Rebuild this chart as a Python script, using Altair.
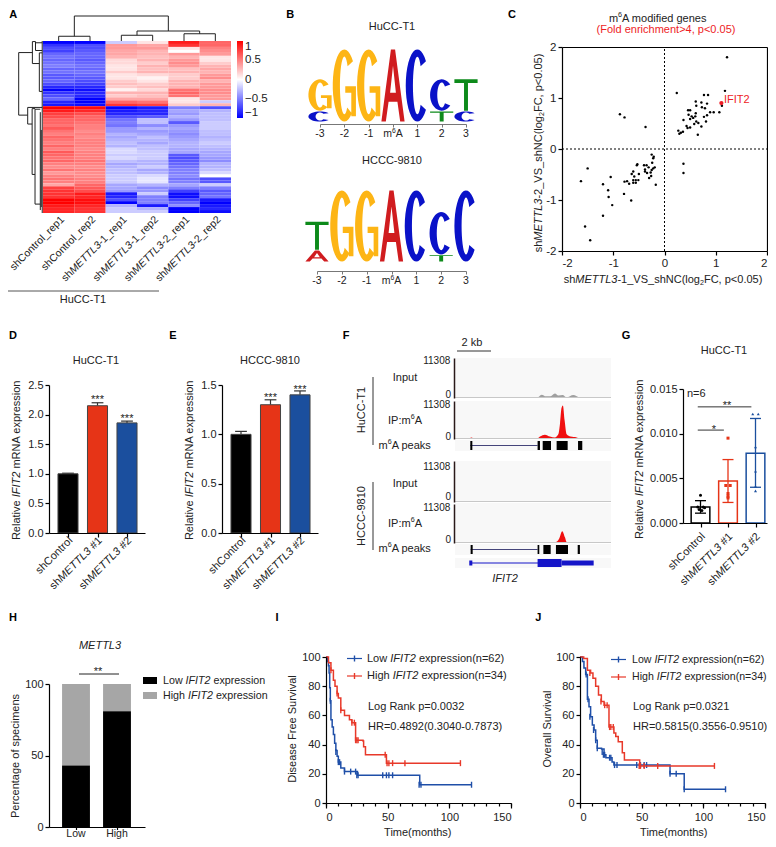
import math, re
import altair as alt
import pandas as pd

W, H = 760, 831
FONT = "Liberation Sans"
TXT = "#222222"

# ---------- data ----------
heat_columns = ["c1", "c2", "c3", "c4", "c5", "c6"]
heat_rows_top = [
 [-1,-1,-.2,.1,.9,.6],[-.8,-.7,.4,.35,.8,.6],[-.7,-.7,.4,.4,.1,.5],[-.75,-.65,.35,.3,0,.45],
 [-.6,-.6,.35,.3,.4,.4],[-.55,-.6,.3,.25,.3,.1],[-.6,-.65,.15,.3,.4,.1],[-.55,-.6,.15,.2,.45,.2],
 [-.5,-.55,.1,.3,.4,.3],[-.6,-.6,.1,.25,.25,.35],[-.55,-.55,.2,.3,.3,.3],[-.65,-.6,.1,.15,.2,.4],
 [-.65,-.65,.1,.05,.2,.45],[-.6,-.7,.2,.1,.3,.3],[-.7,-.75,.25,.2,.3,.4],[-.85,-.85,.2,.25,.3,.4],
 [-1,-.95,.05,.15,.55,.45],[-.8,-.85,.3,.3,.6,.45],[-.7,-.85,.2,.25,.55,.4],[-.6,-1,.35,.35,.1,.4],
 [-.85,-1,.6,.55,.1,-.2],[-.9,-.95,.8,.75,.2,.3]]
heat_rows_bottom = [
 [1,.95,-1,-.9,-.5,-.7],[.9,.85,-.9,-.85,-.35,-.3],[.75,.7,-.85,-.85,-.4,-.25],[.7,.6,-.7,-.65,-.3,-.25],
 [.6,.6,-.55,-.25,-.4,-.25],[.6,.55,-.5,-.25,-.65,-.2],[.55,.5,-.55,-.45,-.4,-.2],[.65,.5,-.4,-.3,-.35,-.2],
 [.55,.45,-.4,-.4,-.4,-.25],[.5,.5,-.3,-.35,-.45,-.25],[.6,.45,-.35,-.25,-.4,-.3],[.55,.5,-.3,-.3,-.35,-.25],
 [.5,.5,-.25,-.35,-.3,-.2],[.6,.5,-.3,-.25,-.3,-.25],[.5,.45,-.15,-.25,-.35,-.3],[.65,.5,-.15,-.2,-.35,-.35],
 [.6,.5,-.2,-.2,-.65,-.35],[.55,.5,-.15,-.2,-.7,-.4],[.6,.55,-.25,-.3,-.65,-.45],[.5,.5,-.35,-.3,-.6,-.3],
 [.45,.45,-.3,-.2,-.55,-.3],[.55,.5,-.25,-.35,-.5,-.25],[.4,.45,-.25,-.3,-.5,-.15],[.5,.45,-.2,-.15,-.45,0],
 [.55,.5,-.2,-.1,-.55,-.7],[.5,.5,-.2,-.1,-.5,-.65],[.35,.6,-.35,-.3,-.35,-.2],[.75,.65,-.35,-.45,-.5,-.5],
 [.8,.7,-.4,-.4,-.75,-.65],[.8,.9,-.9,-.2,-.95,-.6],[.8,.85,-.85,-.5,-.95,-.55],[1,.95,-.7,-.5,-.75,-.9],
 [1,.95,-1,-.5,-.6,-1],[.9,.85,-.3,-.9,-.45,-.9],[.85,.8,-.2,-.3,-1,-.85],[.85,.8,-.2,-.2,-1,-.95]]
heat_labels = ["shControl_rep1","shControl_rep2","sh{i:METTL3}-1_rep1","sh{i:METTL3}-1_rep2","sh{i:METTL3}-2_rep1","sh{i:METTL3}-2_rep2"]
dendro_top = [(.5,.5,0,.19),(1.5,1.5,0,.19),(.5,1.5,.19,.19),(2.5,2.5,0,.23),(3.5,3.5,0,.23),(2.5,3.5,.23,.23),
              (4.5,4.5,0,.29),(5.5,5.5,0,.29),(4.5,5.5,.29,.29),(3,3,.23,.4),(5,5,.29,.4),(3,5,.4,.4),
              (1,1,.19,1),(4,4,.4,1),(1,4,1,1)]
dendro_left = [(1,1,3.9,25),(1,.43,3.9,3.9),(1,.625,25,25),(.43,.43,.2,7.6),(.43,.3,.2,.2),(.43,.14,7.6,7.6),
               (.3,.3,.2,3.2),(.3,.02,3.2,3.2),(.3,.02,.6,.6),(.14,.14,4,17),(.14,.02,4,4),(.14,.02,17,17),
               (.625,.625,22.4,28),(.625,.02,22.4,22.4),(.625,.44,28,28),(.44,.44,22.8,45),(.44,.32,22.8,22.8),(.44,.32,45,45),
               (.32,.32,23,55),(.32,.1,23,23),(.32,.1,55,55),(.1,.1,24,57),(.06,.06,30,56),(.02,.02,0,58)]

logo_bases = ["G", "A", "C", "T"]
logo_colors = {"G": "#fdb515", "A": "#d01c1f", "C": "#0a12c8", "T": "#0d8a1a"}
logo1 = [[("C",.3),("G",.88)],[("G",2)],[("G",2)],[("A",2)],[("C",2)],[("T",.3),("C",.88)],[("C",.3),("T",.88)]]
logo2 = [[("A",.33),("T",.8)],[("G",2)],[("G",2)],[("A",2)],[("C",2)],[("T",.2),("C",1.2)],[("C",2)]]
logo_ticks = ["-3","-2","-1","m{u:6}A","1","2","3"]

sc_x = [1.22,1.18,.85,.77,.24,.61,.72,.83,1.12,.62,.73,.50,.46,.61,.79,.89,.96,.83,1.07,.77,.47,.53,.60,.50,.56,.37,.62,.81,.66,.58,.72,.43,.50,.45,.27,.32,.36,.29,.65,
        -.87,-.78,-.37,.37,.37,
        -.25,-.21,-.22,-.24,-.40,-.35,-.53,-.54,-.38,-.31,-.19,-.22,-.25,-.38,-.34,-.27,-.30,-.26,-.61,-.64,-.50,-.59,-.56,-.61,-.51,-.61,-.56,-.73,-.78,-.69,-.17,
        -1.50,-1.05,-1.63,-1.20,-1.10,-1.09,-.79,-.65,-1.02,-1.20,-1.55,-1.45]
sc_y = [1.80,1.14,1.06,1.06,1.10,.93,.91,.89,.85,.85,.82,.76,.76,.70,.80,.72,.72,.66,.72,.63,.67,.64,.64,.59,.61,.57,.54,.54,.51,.49,.44,.45,.42,.41,.36,.32,.34,.30,.28,
        .68,.62,.43,-.29,-.47,
        -.11,-.15,-.18,-.27,-.32,-.32,-.30,-.32,-.40,-.36,-.36,-.38,-.41,-.44,-.47,-.46,-.57,-.53,-.44,-.49,-.49,-.54,-.61,-.61,-.61,-.66,-.66,-.63,-.64,-.68,-.70,
        -.38,-.55,-.63,-.69,-.81,-.94,-.88,-1.01,-1.10,-1.31,-1.52,-1.79]
ifit2_xy = (1.11, .90)

bar_labels = ["shControl", "sh{i:METTL3} #1", "sh{i:METTL3} #2"]
bar_colors = ["#000000", "#e63417", "#1b4f9e"]
d_vals, d_err = [1.0, 2.15, 1.86], [1.01, 2.20, 1.89]
e_vals, e_err = [1.0, 1.30, 1.40], [1.03, 1.35, 1.44]
g_vals, g_lo, g_hi = [.0018,.0047,.0078], [.0011,.0023,.0040], [.0025,.0071,.0117]
g_black = [(-.1,.0018),(.1,.0018),(0,.0031),(-.05,.0015),(.05,.0014),(.15,.0017)]
g_red = [(0,.0095),(-.08,.0042),(.08,.0042),(0,.0033),(0,.0030),(0,.0028)]
g_blue = [(-.1,.0122),(.1,.0122),(0,.0085),(0,.0058),(0,.0036),(0,.0041)]

h_cats = ["Low", "High"]
h_low = [43, 81]

kb_input1 = [.78,.94,1.08,4.8,5.1,5.35,5.6,5.88,6.08,6.33,6.57,6.96,7.31]
sig_input1 = [0,185,0,0,930,460,460,1300,740,830,185,830,0]
kb_ip1 = [.78,.98,1.12,4.8,5.0,5.29,5.59,5.88,6.08,6.18,6.27,6.35,6.45,6.57,6.8,7.16,7.39]
sig_ip1 = [0,460,0,0,740,1300,740,460,1390,4640,9270,10000,5560,1390,740,460,0]
kb_input2 = [4.9,5.1,5.39,5.88,6.18,6.57,6.96,7.16]
sig_input2 = [0,280,90,280,90,90,185,0]
kb_ip2 = [4.8,5.2,5.78,5.98,6.14,6.31,6.47,6.57,6.96,7.2]
sig_ip2 = [0,280,185,370,1390,3430,1670,280,185,0]
peaks1 = [(.9,1.02),(4.86,5.0),(5.16,5.65),(5.98,6.63),(7.24,7.49)]
peaks2 = [(.92,1.04),(4.86,4.96),(5.2,5.63),(5.94,6.65),(7.22,7.35)]

i_low_t = [0,1,2,2.5,3,3.5,4,5,6,7,8,9,10,12,15,24,25.5,75,76,118]
i_low_s = [100,97,94,89,79,70,57,52,47,41,36,32,28,24,21.5,21.5,19,19,12.5,12.5]
i_low_ct = [3.5,8,10,11,15,20,24,25,26,46,49,51,54,75.5,77,118]
i_low_cs = [70,35,28,28,21.5,21.5,21.5,19,19,19,19,19,19,12.5,12.5,12.5]
i_high_t = [0,2,4,6,7.3,9,10,12,15,19,21,24,30,30.5,32,48,49,109]
i_high_s = [100,96,91,84,80,75,72,63.5,60,57,55,43,42.5,38.5,33,33,27.3,27.3]
i_high_ct = [4,9,12,21,23,24,25,26,48,49.5,51,54,64,109]
i_high_cs = [91,75,63.5,55,55,43,43,43,33,27.3,27.3,27.3,27.3,27.3]
j_low_t = [0,2,3.2,4.6,6,7.3,8.6,10,11.4,12.7,14,17.5,19.5,21,26,27.5,73,84.5,118]
j_low_s = [100,97,92.5,88,71,66,59,53.5,50,43,37.5,37,33,31,28,26,20,9.4,9.4]
j_low_ct = [5,6.5,8,11,12.7,14,18,19,20,24,25,28,30,46,49,52,54,73,78,84.5,118]
j_low_cs = [88,71,59,50,43,37.5,35,33,33,31,31,26,26,26,26,26,26,20,20,9.4,9.4]
j_high_t = [0,3,6,8.6,10.5,12.7,15,17.3,19.5,23.5,27.5,29,31,32,34.3,36,48.4,109]
j_high_s = [100,99,91,89,85.5,80,74,69.5,67,52,48,45.5,42,42,34.5,29.5,25.4,25.4]
j_high_ct = [8,17,20,22,24,25,27,48,49,52,63,109]
j_high_cs = [89,69.5,67,67,52,52,52,25.4,25.4,25.4,25.4,25.4]
km_blue, km_red = "#1f4fa8", "#e8392a"

# ---------- helpers ----------
L = []
TEXTS = []
ONE = pd.DataFrame({"a": [0]})
METRIC = {' ':278,'!':278,'(':333,')':333,'*':389,'+':584,',':278,'-':333,'.':278,'/':278,':':278,'<':584,'=':584,'>':584,'#':556,'_':556,
 'A':667,'B':667,'C':722,'D':722,'E':667,'F':611,'G':778,'H':722,'I':278,'J':500,'K':667,'L':556,'M':833,'N':722,'O':778,'P':667,'Q':778,'R':722,'S':667,'T':611,'U':722,'V':667,'W':944,'X':667,'Y':667,'Z':611,
 'a':556,'b':556,'c':500,'d':556,'e':556,'f':278,'g':556,'h':556,'i':222,'j':222,'k':500,'l':222,'m':833,'n':556,'o':556,'p':556,'q':556,'r':333,'s':500,'t':278,'u':556,'v':500,'w':722,'x':500,'y':500,'z':500}
def tw(s, size):
    return sum(METRIC.get(c, 556) for c in s) / 1000 * size

def text(s, x, y, anchor="middle", angle=0, size=11, color=TXT, style="normal"):
    parts = []
    for tok in re.split(r"(\{[ius]:[^}]*\})", s):
        if not tok:
            continue
        if tok.startswith("{") and tok[2] == ":":
            parts.append((tok[3:-1], tok[1]))
        else:
            parts.append((tok, ""))
    def seg_size(k):
        return size * .65 if k in ("u", "s") else size
    total = sum(tw(t, seg_size(k)) for t, k in parts)
    a = math.radians(angle)
    dx, dy = math.cos(a), math.sin(a)
    px, py = math.sin(a), -math.cos(a)
    back = {"start": 0, "middle": total / 2, "end": total}[anchor]
    cx, cy = x - 8 - dx * back, y - 8 - dy * back
    for t, k in parts:
        shift = {"u": .32 * size, "s": -.28 * size}.get(k, 0)
        st = "bold" if style == "bold" else ("italic" if (k == "i" or style == "italic") else "normal")
        lead = len(t) - len(t.lstrip(" "))
        lead_adv = tw(" " * lead, seg_size(k))
        TEXTS.append(dict(t=t.strip(" "), x=cx + dx * lead_adv + px * shift, y=cy + dy * lead_adv + py * shift,
                          angle=angle % 360, size=seg_size(k), color=color, st=st))
        adv = tw(t, seg_size(k))
        cx += dx * adv
        cy += dy * adv

def sc(dom, rng):
    return alt.Scale(domain=list(dom), range=[r - 8 for r in rng], nice=False, zero=False)

def ax(orient, pos, color="#000000", **kw):
    off = {"left": -(pos - 8), "right": (pos - 8) - W, "top": -(pos - 8), "bottom": (pos - 8) - H}[orient]
    base = dict(orient=orient, offset=off, title=None, grid=False, domainColor=color, tickColor=color, domainWidth=1.2, tickWidth=1.2,
                labelFont=FONT, labelFontSize=11, labelColor=TXT, tickSize=4, labelPadding=2, labelOverlap=False, zindex=1)
    base.update(kw)
    return alt.Axis(**base)

def QX(f, s, axis=None):
    return alt.X(f"{f}:Q", scale=s, axis=axis)
def QY(f, s, axis=None):
    return alt.Y(f"{f}:Q", scale=s, axis=axis)

def seg(x1, y1, x2, y2, color="#000000", w=1.0):
    L.append(alt.Chart(ONE).mark_rule(color=color, strokeWidth=w).encode(
        x=alt.value(x1 - 8), x2=alt.value(x2 - 8), y=alt.value(y1 - 8), y2=alt.value(y2 - 8)))

def box(x1, y1, x2, y2, color):
    L.append(alt.Chart(ONE).mark_rect(color=color).encode(
        x=alt.value(x1 - 8), x2=alt.value(x2 - 8), y=alt.value(y1 - 8), y2=alt.value(y2 - 8)))

def axes_layer(xs, ys, xaxis=None, yaxis=None):
    df = pd.DataFrame({"x": [xs.domain[0]], "y": [ys.domain[0]]})
    L.append(alt.Chart(df).mark_point(opacity=0).encode(x=QX("x", xs, xaxis), y=QY("y", ys, yaxis)))

# panel letters
for ch, px, py in [("A",13,15),("B",290,15),("C",512,15),("D",13,336),("E",173,336),("F",346,336),("G",626,336),("H",13,618),("I",277,618),("J",538,618)]:
    text(ch, px, py, size=11, color="#000000", style="bold")

# ---------- A: heatmap ----------
rows = heat_rows_top + heat_rows_bottom
hdf = pd.DataFrame([{"r": i, "c": heat_columns[j], "v": v} for i, row in enumerate(rows) for j, v in enumerate(row)])
hx = alt.Scale(domain=heat_columns, range=[43 - 8, 231 - 8], paddingInner=0, paddingOuter=0)
hy = alt.Scale(domain=list(range(len(rows))), range=[41 - 8, 213 - 8], paddingInner=0, paddingOuter=0)
L.append(alt.Chart(hdf).mark_rect(strokeWidth=0).encode(
    x=alt.X("c:N", scale=hx, axis=None), y=alt.Y("r:O", scale=hy, axis=None),
    color=alt.Color("v:Q", scale=alt.Scale(domain=[-1, 0, 1], range=["#0000ff", "#ffffff", "#ff0000"], interpolate="rgb"),
                    legend=alt.Legend(orient="none", legendX=237 - 8, legendY=41 - 8, title=None, direction="vertical", format="~g",
                                      gradientLength=77, gradientThickness=6, values=[-1, -.5, 0, .5, 1], labelFont=FONT,
                                      labelFontSize=11.5, labelColor=TXT, tickCount=5, labelOffset=2))))
dt = pd.DataFrame(dendro_top, columns=["x", "x2", "y", "y2"])
L.append(alt.Chart(dt).mark_rule(color="#222222", strokeWidth=1).encode(
    x=QX("x", sc([0, 6], [43, 231])), x2="x2:Q", y=QY("y", sc([0, 1], [41, 16])), y2="y2:Q"))
dl = pd.DataFrame(dendro_left, columns=["x", "x2", "y", "y2"])
L.append(alt.Chart(dl).mark_rule(color="#222222", strokeWidth=1).encode(
    x=QX("x", sc([0, 1], [42.7, 18.7])), x2="x2:Q", y=QY("y", sc([0, 58], [41, 213])), y2="y2:Q"))
for i, lab in enumerate(heat_labels):
    text(lab, 43 + 31.33 * (i + .5) + 4, 218, anchor="end", angle=315, size=10.5)
seg(8, 291, 159, 291, "#555555", 1)
text("HuCC-T1", 83, 300)

# ---------- B: sequence logos ----------
def ellipse_arc(rx, ry, a0, a1, n=28):
    return [(rx * math.cos(math.radians(a0 + (a1 - a0) * i / n)), ry * math.sin(math.radians(a0 + (a1 - a0) * i / n))) for i in range(n + 1)]
C_POLY = [ellipse_arc(1, 1, 42, 318) + ellipse_arc(.38, .8, 318, 42)]
G_POLY = [ellipse_arc(1, 1, 50, 318) + ellipse_arc(.38, .8, 318, 50),
          [(.08, .02), (1, .02), (1, .85), (.6, .85), (.6, .2), (.08, .2)]]
T_POLY = [[(-1, -1), (1, -1), (1, -.76), (.17, -.76), (.17, 1), (-.17, 1), (-.17, -.76), (-1, -.76)]]
A_POLY = [[(-1, 1), (-.18, -1), (.18, -1), (1, 1), (.62, 1), (.38, .45), (-.38, .45), (-.62, 1)],
          [(0, -.55), (-.25, .2), (.25, .2)]]
GLYPHS = {"C": C_POLY, "G": G_POLY, "T": T_POLY, "A": A_POLY}
def glyph_path(base, hw, hh):
    out = []
    for poly in GLYPHS[base]:
        out.append("M" + "L".join(f"{p[0]*hw:.2f},{p[1]*hh:.2f}" for p in poly) + "Z")
    return "".join(out)

def logo(stacks, xr, yr, axis_y, label_y):
    xs, ys = sc([0, 6], xr), sc([0, 2], yr)
    px_per_bit = (yr[0] - yr[1]) / 2
    recs = []
    for i, stack in enumerate(stacks):
        bottom = 0
        for base, bits in stack:
            recs.append(dict(i=i, mid=bottom + bits / 2, path=glyph_path(base, 11.6, bits * px_per_bit / 2 - .4), col=logo_colors[base]))
            bottom += bits
    L.append(alt.Chart(pd.DataFrame(recs)).mark_point(filled=True, opacity=1, size=4, strokeWidth=0).encode(
        x=QX("i", xs), y=QY("mid", ys),
        shape=alt.Shape("path:N", scale=None, legend=None), color=alt.Color("col:N", scale=None, legend=None)))
    axes_layer(xs, ys, xaxis=ax("bottom", axis_y, color="#777777", values=list(range(7)), labels=False, tickSize=3, domainWidth=1, tickWidth=1))
    for i, lab in enumerate(logo_ticks):
        text(lab, xr[0] + (xr[1] - xr[0]) * i / 6, label_y, size=10.5)

logo(logo1, [320, 466], [122, 49], 124, 134)
logo(logo2, [317, 466], [262, 190], 271, 281)
text("HuCC-T1", 392, 27)
text("HCCC-9810", 392, 161)

# ---------- C: scatter ----------
cx, cy = sc([-2, 2], [562, 767]), sc([-2, 2], [251, 47])
tk = [-2, -1, 0, 1, 2]
axes_layer(cx, cy,
           xaxis=ax("bottom", 251, values=tk, labelExpr="'' + datum.value", labelFontSize=11.5),
           yaxis=ax("left", 562, values=tk, labelExpr="'' + datum.value", labelFontSize=11.5))
axes_layer(cx, cy,
           xaxis=ax("top", 47, values=tk, labels=False, ticks=False),
           yaxis=ax("right", 767, values=tk, labels=False, ticks=False))
L.append(alt.Chart(pd.DataFrame({"x": [0], "y": [-2], "y2": [2]})).mark_rule(color="#000000", strokeWidth=1, strokeDash=[2, 2]).encode(
    x=QX("x", cx), y=QY("y", cy), y2="y2:Q"))
L.append(alt.Chart(pd.DataFrame({"x": [-2], "x2": [2], "y": [0]})).mark_rule(color="#000000", strokeWidth=1, strokeDash=[2, 2]).encode(
    x=QX("x", cx), x2="x2:Q", y=QY("y", cy)))
L.append(alt.Chart(pd.DataFrame({"x": sc_x, "y": sc_y})).mark_circle(color="#000000", size=6, opacity=1).encode(x=QX("x", cx), y=QY("y", cy)))
L.append(alt.Chart(pd.DataFrame({"x": [ifit2_xy[0]], "y": [ifit2_xy[1]]})).mark_circle(color="#ee1c25", size=18, opacity=1).encode(x=QX("x", cx), y=QY("y", cy)))
text("m{u:6}A modified genes", 658, 19)
text("(Fold enrichment>4, p<0.05)", 666, 30, color="#ee1c25")
text("IFIT2", 724, 100, anchor="start", color="#ee1c25")
text("sh{i:METTL3}-1_VS_shNC(log{s:2}FC, p<0.05)", 663, 280)
text("sh{i:METTL3}-2_VS_shNC(log{s:2}FC, p<0.05)", 539, 153, angle=270)

# ---------- D, E: bars ----------
def idx_scale(c0, step, left, right):
    return sc([(left - c0) / step, (right - c0) / step], [left, right])

def bars(vals, err, ymax, yticks, c0, step, left, right, y_top, y_bot, stars, title, tx, ylab_x):
    xs, ys = idx_scale(c0, step, left, right), sc([0, ymax], [y_bot, y_top])
    recs = pd.DataFrame({"i": range(3), "x": [i - .34 for i in range(3)], "x2": [i + .34 for i in range(3)], "v": vals, "z": [0] * 3,
                         "col": bar_colors, "e": err, "c1": [i - .2 for i in range(3)], "c2": [i + .2 for i in range(3)]})
    L.append(alt.Chart(recs).mark_rule(color="#333333", strokeWidth=1.2).encode(x=QX("i", xs), y=QY("v", ys), y2="e:Q"))
    L.append(alt.Chart(recs).mark_rule(color="#333333", strokeWidth=1.2).encode(x=QX("c1", xs), x2="c2:Q", y=QY("e", ys)))
    L.append(alt.Chart(recs).mark_rect(stroke="#444444", strokeWidth=1).encode(
        x=QX("x", xs), x2="x2:Q", y=QY("v", ys), y2="z:Q", color=alt.Color("col:N", scale=None, legend=None)))
    axes_layer(xs, ys, xaxis=ax("bottom", y_bot, values=[0, 1, 2], labels=False), yaxis=ax("left", left, values=yticks, format=".1f"))
    for i, lab in enumerate(bar_labels):
        text(lab, c0 + step * i + 3, y_bot + 6, anchor="end", angle=315)
    for i, (sy) in stars:
        text("***", c0 + step * i, sy, size=11)
    text(title, tx, 361)
    text("Relative {i:IFIT2} mRNA expression", ylab_x, 460, angle=270)

bars(d_vals, d_err, 2.5, [0, .5, 1, 1.5, 2, 2.5], 68, 29.5, 49, 145, 385, 533, [(1, 400), (2, 418.5)], "HuCC-T1", 96, 17)
bars(e_vals, e_err, 1.5, [0, .5, 1, 1.5], 241, 29.5, 222, 318, 385, 533, [(1, 398), (2, 390)], "HCCC-9810", 270, 190)

# ---------- F: tracks ----------
fx = sc([0, 9.18], [455, 611])
tracks = [(358, 398, 398, 358, kb_input1, sig_input1, "#a0a0a0", 361, 395),
          (401, 439, 439, 401, kb_ip1, sig_ip1, "#f01010", 405, 437),
          (461, 502, 502, 461, kb_input2, sig_input2, "#a0a0a0", 467, 497),
          (503, 543, 543, 504, kb_ip2, sig_ip2, "#f01010", 508, 540)]
for bg_top, bg_bot, base, top, kb, sig, col, lab_top, lab_zero in tracks:
    box(455, bg_top, 611, bg_bot, "#f8f8f8")
    ys = sc([0, 11308], [base, top])
    L.append(alt.Chart(pd.DataFrame({"k": kb, "s": sig})).mark_area(color=col, interpolate="monotone").encode(x=QX("k", fx), y=QY("s", ys)))
    axes_layer(fx, ys, yaxis=ax("left", 454, color="#2a1a1a", values=[0, 11308], labels=False, ticks=False, domainWidth=1.5))
    seg(455, base - .5, 611, base - .5, "#c8c8c8", 1)
    text("11308", 451, lab_top, anchor="end", size=10)
    text("0", 451, lab_zero, anchor="end", size=10)
for (pk, top, bot) in [(peaks1, 441, 450), (peaks2, 545, 554)]:
    box(455, top - 1, 611, bot + 1, "#f8f8f8")
    mid = (top + bot) / 2
    L.append(alt.Chart(pd.DataFrame({"x": [pk[0][0]], "x2": [pk[1][0]]})).mark_rule(color="#44447a", strokeWidth=1).encode(
        x=QX("x", fx), x2="x2:Q", y=alt.value(mid - 8)))
    L.append(alt.Chart(pd.DataFrame(pk, columns=["x", "x2"])).mark_rect(color="#000000").encode(
        x=QX("x", fx), x2="x2:Q", y=alt.value(top - 8), y2=alt.value(bot - 8)))
box(455, 558, 611, 568, "#f8f8f8")
gene_parts = [(.84, 1.02, 560.5, 565.5), (4.86, 6.27, 559, 567), (6.27, 8.16, 560.5, 565.5)]
L.append(alt.Chart(pd.DataFrame({"x": [.95], "x2": [4.9]})).mark_rule(color="#1515c8", strokeWidth=1).encode(x=QX("x", fx), x2="x2:Q", y=alt.value(563 - 8)))
for a, b, t, bt in gene_parts:
    L.append(alt.Chart(pd.DataFrame({"x": [a], "x2": [b]})).mark_rect(color="#1515c8").encode(
        x=QX("x", fx), x2="x2:Q", y=alt.value(t - 8), y2=alt.value(bt - 8)))
seg(457, 351, 491, 351, "#333333", 1)
text("2 kb", 472, 343)
for yy, lab in [(378, "Input"), (421, "IP:m{u:6}A"), (446, "m{u:6}A peaks"), (484, "Input"), (524, "IP:m{u:6}A"), (549, "m{u:6}A peaks")]:
    text(lab, 405, yy)
text("HuCC-T1", 362, 410, angle=270)
text("HCCC-9810", 362, 516, angle=270)
seg(373, 377, 373, 445, "#333333", 1)
seg(373, 482, 373, 550, "#333333", 1)
text("{i:IFIT2}", 505, 579)

# ---------- G ----------
gx, gy = idx_scale(700.5, 27.5, 683, 767), sc([0, .015], [523, 389])
grec = pd.DataFrame({"i": range(3), "x": [i - .34 for i in range(3)], "x2": [i + .34 for i in range(3)], "v": g_vals, "z": [0] * 3, "col": bar_colors,
                     "lo": g_lo, "hi": g_hi, "c1": [i - .2 for i in range(3)], "c2": [i + .2 for i in range(3)]})
L.append(alt.Chart(grec).mark_rect(strokeWidth=1.5, fillOpacity=0, filled=False).encode(
    x=QX("x", gx), x2="x2:Q", y=QY("v", gy), y2="z:Q", stroke=alt.Stroke("col:N", scale=None, legend=None)))
L.append(alt.Chart(grec).mark_rule(strokeWidth=1.3).encode(x=QX("i", gx), y=QY("lo", gy), y2="hi:Q", color=alt.Color("col:N", scale=None, legend=None)))
for f in ["lo", "hi"]:
    L.append(alt.Chart(grec).mark_rule(strokeWidth=1.3).encode(x=QX("c1", gx), x2="c2:Q", y=QY(f, gy), color=alt.Color("col:N", scale=None, legend=None)))
for idx, pts, shp in [(0, g_black, "circle"), (1, g_red, "square"), (2, g_blue, "triangle-up")]:
    pdf = pd.DataFrame({"x": [idx + p[0] for p in pts], "y": [p[1] for p in pts]})
    L.append(alt.Chart(pdf).mark_point(filled=True, opacity=1, size=9, shape=shp, color=bar_colors[idx]).encode(x=QX("x", gx), y=QY("y", gy)))
axes_layer(gx, gy, xaxis=ax("bottom", 523, values=[0, 1, 2], labels=False), yaxis=ax("left", 683, values=[0, .005, .01, .015], format=".3f"))
L.append(alt.Chart(pd.DataFrame({"x": [-.1], "x2": [1.85], "y": [.0130]})).mark_rule(color="#333333", strokeWidth=1).encode(x=QX("x", gx), x2="x2:Q", y=QY("y", gy)))
L.append(alt.Chart(pd.DataFrame({"x": [-.1], "x2": [.85], "y": [.0104]})).mark_rule(color="#333333", strokeWidth=1).encode(x=QX("x", gx), x2="x2:Q", y=QY("y", gy)))
text("**", 727, 406, size=11)
text("*", 714, 430, size=11)
text("n=6", 687, 394, anchor="start")
text("HuCC-T1", 724, 351)
text("Relative {i:IFIT2} mRNA expression", 640, 459, angle=270)
for i, lab in enumerate(bar_labels):
    text(lab, 700.5 + 27.5 * i + 3, 535, anchor="end", angle=315)

# ---------- H ----------
hxs, hys = idx_scale(76, 41, 49, 145), sc([0, 100], [827, 684])
hdf2 = pd.DataFrame({"i": [0, 1], "x": [-.34, .66], "x2": [.34, 1.34], "low": h_low, "z": [0, 0], "top": [100, 100]})
L.append(alt.Chart(hdf2).mark_rect(color="#a6a6a6").encode(x=QX("x", hxs), x2="x2:Q", y=QY("low", hys), y2="top:Q"))
L.append(alt.Chart(hdf2).mark_rect(color="#000000").encode(x=QX("x", hxs), x2="x2:Q", y=QY("z", hys), y2="low:Q"))
axes_layer(hxs, hys, xaxis=ax("bottom", 827, values=[0, 1], labels=False, tickSize=2.5), yaxis=ax("left", 49, values=[0, 50, 100], format="d"))
for i, lab in enumerate(h_cats):
    text(lab, 76 + 41 * i, 833.5, size=10.5)
text("Percentage of specimens", 16, 756, angle=270)
text("{i:METTL3}", 100, 646)
seg(79, 674, 119, 674, "#222222", 1)
text("**", 98, 672, size=11)
box(143, 677, 157, 684, "#000000")
box(143, 692, 157, 699, "#a6a6a6")
text("Low {i:IFIT2} expression", 163, 681, anchor="start", size=10.7)
text("High {i:IFIT2} expression", 163, 696, anchor="start", size=10.7)

# ---------- I, J: survival ----------
def km(x0, x150, low, high, legend_x, text_x, ylabel, ylab_x, xlab_x, ytxt, logrank, hr, leg_size):
    xs, ys = sc([0, 150], [x0, x150]), sc([0, 100], [803, 657])
    for (t, s, ct, cs), col in [(low, km_blue), (high, km_red)]:
        L.append(alt.Chart(pd.DataFrame({"t": t, "s": s})).mark_line(color=col, strokeWidth=1.5, interpolate="step-after").encode(x=QX("t", xs), y=QY("s", ys)))
        L.append(alt.Chart(pd.DataFrame({"t": ct, "s": cs})).mark_tick(color=col, orient="vertical", size=6, thickness=1.4, opacity=1).encode(x=QX("t", xs), y=QY("s", ys)))
    axes_layer(xs, ys, xaxis=ax("bottom", 803, values=[0, 50, 100, 150], format="d", tickSize=5, labelPadding=3),
               yaxis=ax("left", x0, values=[0, 20, 40, 60, 80, 100], format="d"))
    axes_layer(xs, ys, xaxis=ax("bottom", 803, values=list(range(0, 151, 10)), labels=False, tickSize=3, domain=False))
    for (yy, col, lab) in [(ytxt, km_blue, "Low {i:IFIT2} expression(n=62)"), (ytxt + 17.5, km_red, "High {i:IFIT2} expression(n=34)")]:
        seg(legend_x, yy, legend_x + 15, yy, col, 1.2)
        seg(legend_x + 7.5, yy - 3, legend_x + 7.5, yy + 3, col, 1.4)
        text(lab, text_x, yy, anchor="start", size=leg_size)
    text(logrank, text_x + 1, 706.5, anchor="start")
    text(hr, text_x + 1, 726.5, anchor="start")
    text(ylabel, ylab_x, 729, angle=270)
    text("Time(months)", xlab_x, 832.5)

km(326, 511, (i_low_t, i_low_s, i_low_ct, i_low_cs), (i_high_t, i_high_s, i_high_ct, i_high_cs), 347, 367,
   "Disease Free Survival", 293, 418, 658.5, "Log Rank p=0.0032", "HR=0.4892(0.3040-0.7873)", 11)
km(580, 765, (j_low_t, j_low_s, j_low_ct, j_low_cs), (j_high_t, j_high_s, j_high_ct, j_high_cs), 611, 632,
   "Overall Survival", 548, 674, 659.5, "Log Rank p=0.0321", "HR=0.5815(0.3556-0.9510)", 10.6)

# ---------- all text ----------
tdf = pd.DataFrame(TEXTS)
for st, kw in [("normal", {}), ("italic", {"fontStyle": "italic"}), ("bold", {"fontWeight": "bold"})]:
    sub = tdf[tdf.st == st]
    if len(sub) == 0:
        continue
    L.append(alt.Chart(sub).mark_text(font=FONT, align="left", baseline="middle", **kw).encode(
        x=alt.X("x:Q", scale=None, axis=None), y=alt.Y("y:Q", scale=None, axis=None), text="t:N",
        angle=alt.Angle("angle:Q", scale=None), size=alt.Size("size:Q", scale=None, legend=None),
        color=alt.Color("color:N", scale=None, legend=None)))

chart = alt.layer(*L).resolve_scale(x="independent", y="independent", color="independent").resolve_axis(
    x="independent", y="independent").properties(
    width=W, height=H, padding=0, autosize=alt.AutoSizeParams(type="none")).configure_view(stroke=None)

chart.save("out.html", embed_options={"renderer": "svg", "actions": False})
